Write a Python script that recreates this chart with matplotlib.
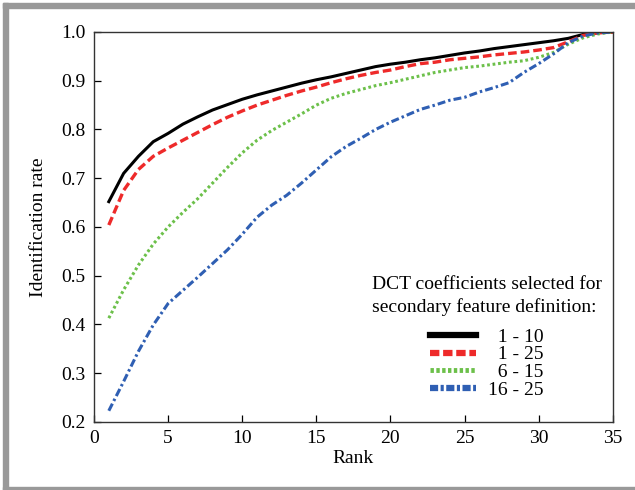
import matplotlib.pyplot as plt
from matplotlib.patches import Rectangle

plt.rcParams['font.family'] = ['Liberation Serif', 'DejaVu Serif']
plt.rcParams['mathtext.fontset'] = 'stix'

rank = list(range(1, 36))

# 1 - 10
rate_1_10 = [0.652, 0.710, 0.745, 0.775, 0.792, 0.811, 0.826, 0.840, 0.851, 0.862,
             0.871, 0.879, 0.887, 0.895, 0.902, 0.908, 0.915, 0.922, 0.929, 0.934,
             0.938, 0.943, 0.947, 0.952, 0.957, 0.961, 0.966, 0.970, 0.974, 0.978,
             0.982, 0.987, 0.995, 0.999, 1.000]
# 1 - 25
rate_1_25 = [0.604, 0.675, 0.718, 0.745, 0.762, 0.778, 0.794, 0.810, 0.825, 0.838,
             0.850, 0.860, 0.870, 0.879, 0.887, 0.896, 0.904, 0.911, 0.917, 0.922,
             0.929, 0.935, 0.938, 0.943, 0.946, 0.949, 0.953, 0.956, 0.959, 0.963,
             0.968, 0.980, 0.993, 0.998, 1.000]
# 6 - 15
rate_6_15 = [0.413, 0.471, 0.522, 0.565, 0.600, 0.630, 0.658, 0.690, 0.722, 0.752,
             0.778, 0.798, 0.815, 0.832, 0.850, 0.864, 0.874, 0.882, 0.890, 0.896,
             0.903, 0.910, 0.917, 0.922, 0.927, 0.930, 0.934, 0.938, 0.941, 0.948,
             0.958, 0.975, 0.988, 0.996, 1.000]
# 16 - 25
rate_16_25 = [0.223, 0.283, 0.345, 0.399, 0.443, 0.470, 0.497, 0.525, 0.553, 0.585,
              0.620, 0.645, 0.665, 0.690, 0.717, 0.744, 0.765, 0.782, 0.800, 0.815,
              0.828, 0.841, 0.850, 0.860, 0.866, 0.877, 0.886, 0.896, 0.917, 0.935,
              0.955, 0.978, 0.992, 0.998, 1.000]

labels = ['  1 - 10', '  1 - 25', '  6 - 15', '16 - 25']

fig = plt.figure(figsize=(6.35, 4.9), dpi=100)
ax = fig.add_axes([0.148, 0.1388, 0.817, 0.7959])

ax.plot(rank, rate_1_10, color='black', lw=2.2, ls='-', label=labels[0])
ax.plot(rank, rate_1_25, color='#ee2a2a', lw=2.4, ls=(0, (2.6, 1.2)), label=labels[1])
ax.plot(rank, rate_6_15, color='#6cc04a', lw=2.2, ls=(0, (0.9, 0.9)), label=labels[2])
ax.plot(rank, rate_16_25, color='#2f5fb3', lw=2.2, ls=(0, (2.6, 1.0, 0.8, 1.0)), label=labels[3])

ax.set_xlim(0, 35)
ax.set_ylim(0.2, 1.0)
ax.set_xticks(range(0, 36, 5))
ax.set_yticks([0.2, 0.3, 0.4, 0.5, 0.6, 0.7, 0.8, 0.9, 1.0])
ax.set_yticklabels(['0.2', '0.3', '0.4', '0.5', '0.6', '0.7', '0.8', '0.9', '1.0'])
ax.tick_params(direction='in', length=5, width=0.9, labelsize=14, pad=6,
               top=False, right=False)
for s in ax.spines.values():
    s.set_linewidth(1.0)
    s.set_color('#333333')

ax.set_xlabel('Rank', fontsize=14, labelpad=2)
ax.set_ylabel('Identification rate', fontsize=14, labelpad=10)

leg = ax.legend(title='DCT coefficients selected for\nsecondary feature definition:',
                loc='lower right', bbox_to_anchor=(1.005, 0.025), frameon=False,
                fontsize=14, title_fontsize=14, handlelength=2.4,
                handletextpad=0.6, labelspacing=0.0, borderpad=0.2)
leg._legend_box.align = 'center'
leg._legend_box.sep = 9
leg.get_title().set_linespacing(1.35)
leg_lines = leg.get_lines()
leg_lines[0].set_linewidth(4.5)
leg_lines[1].set_linewidth(4.5)
leg_lines[1].set_dashes((1.5, 0.6))
leg_lines[2].set_linewidth(3.5)
leg_lines[2].set_dashes((0.7, 0.5))
leg_lines[3].set_linewidth(4.5)
leg_lines[3].set_dashes((1.3, 0.4, 0.5, 0.4))

# grey frame around figure
fig.patches.append(Rectangle((3 / 635, 0), 5 / 635, 487 / 490, transform=fig.transFigure,
                             color='#999999', zorder=0))
fig.patches.append(Rectangle((3 / 635, 482 / 490), 632 / 635, 5 / 490, transform=fig.transFigure,
                             color='#999999', zorder=0))
fig.patches.append(Rectangle((3 / 635, 0), 632 / 635, 3 / 490, transform=fig.transFigure,
                             color='#999999', zorder=0))

plt.savefig('out.png', dpi=100)
